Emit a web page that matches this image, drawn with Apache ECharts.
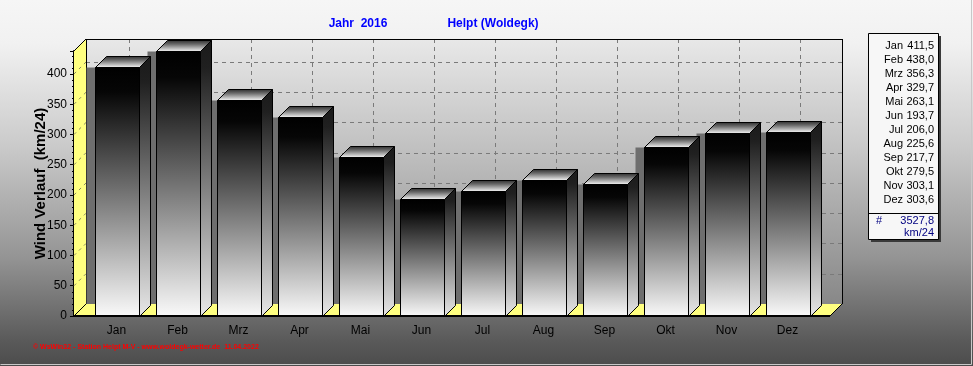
<!DOCTYPE html>
<html>
<head>
<meta charset="utf-8">
<script src="https://cdn.jsdelivr.net/npm/echarts@6/dist/echarts.min.js"></script>
<style>html,body{margin:0;padding:0;background:#fff}#c{width:973px;height:366px}</style>
</head>
<body>
<div id="c"></div>
<script>
// ---- data ----
const months = ['Jan','Feb','Mrz','Apr','Mai','Jun','Jul','Aug','Sep','Okt','Nov','Dez'];
const values = [411.5,438.0,356.3,329.7,263.1,193.7,206.0,225.6,217.7,279.5,303.1,303.6];
const yTicks = [0,50,100,150,200,250,300,350,400];
const yMax = 438;
const titleYear = 'Jahr  2016';
const titleStation = 'Helpt (Woldegk)';
const yName = 'Wind Verlauf  (km/24)';
const unit = 'km/24';
const footer = '\u00A9 WsWin32 - Station Helpt M-V - www.woldegk-wetter.de  11.04.2022';

// ---- style ----
const FONT = '"Liberation Sans", Arial, sans-serif';
const WALL_D = 12, BAR_D = 11, PAD = 12;
const YELLOW = '#ffff80';
const fmt = v => v.toFixed(1).replace('.', ',');
const total = values.reduce((a, b) => a + b, 0);

const chart = echarts.init(document.getElementById('c'), null, {renderer: 'canvas'});
const LG = echarts.graphic.LinearGradient;

function wallsItem(params, api) {
  const cs = params.coordSys;
  const x0 = cs.x - PAD, x1 = cs.x + cs.width + PAD;
  const yT = cs.y, yB = cs.y + cs.height, D = WALL_D;
  const ch = [];
  ch.push({type: 'rect', shape: {x: x0 + D, y: yT - D, width: x1 - x0, height: yB - yT},
    style: {fill: new LG(0, 0, 0, 1, [{offset: 0, color: '#e8e8e8'}, {offset: 0.5, color: '#b8b8b8'}, {offset: 1, color: '#888888'}])}});
  yTicks.forEach(v => {
    if (v === 0) return;
    const y = Math.round(api.coord([0, v])[1]) - D + 0.5;
    ch.push({type: 'line', shape: {x1: x0 + D, y1: y, x2: x1 + D, y2: y},
      style: {stroke: '#7a7a7a', lineWidth: 1, lineDash: [4, 4]}});
  });
  months.forEach((m, i) => {
    const x = Math.round(api.coord([i, 0])[0]) + D + 0.5;
    ch.push({type: 'line', shape: {x1: x, y1: yT - D, x2: x, y2: yB - D},
      style: {stroke: '#7a7a7a', lineWidth: 1, lineDash: [4, 4]}});
  });
  ch.push({type: 'polygon', shape: {points: [[x0, yB], [x0, yT], [x0 + D, yT - D], [x0 + D, yB - D]]},
    style: {fill: YELLOW}});
  yTicks.forEach(v => {
    if (v === 0) return;
    const y = api.coord([0, v])[1];
    ch.push({type: 'line', shape: {x1: x0, y1: y, x2: x0 + D, y2: y - D},
      style: {stroke: '#8a8a60', lineWidth: 1, lineDash: [3, 4]}});
  });
  ch.push({type: 'polygon', shape: {points: [[x0, yB], [x1, yB], [x1 + D, yB - D], [x0 + D, yB - D]]},
    style: {fill: YELLOW}});
  const L = (a, b, c, d, w) => ch.push({type: 'line', shape: {x1: a, y1: b, x2: c, y2: d}, style: {stroke: '#000', lineWidth: w || 1}});
  L(x0 + D + 0.5, yT - D, x0 + D + 0.5, yB - D);
  L(x0 + D, yT - D + 0.5, x1 + D, yT - D + 0.5);
  L(x1 + D + 0.5, yT - D, x1 + D + 0.5, yB - D);
  L(x0, yT, x0 + D, yT - D);
  L(x0, yB, x0 + D, yB - D);
  L(x1, yB, x1 + D, yB - D);
  return {type: 'group', children: ch};
}

function barGeom(api) {
  const i = api.value(0), v = api.value(1);
  const base = api.coord([i, 0]);
  const top = api.coord([i, v]);
  const bw = Math.round(api.size([1, 0])[0] * 0.72);
  const left = Math.round(base[0] - bw / 2) + 0.5;
  return {left, right: left + bw, top: Math.round(top[1]) + 0.5, base: Math.round(base[1]) + 0.5, bw};
}

function shadowItem(params, api) {
  const g = barGeom(api);
  const cs = params.coordSys;
  const yB = cs.y + cs.height;
  return {type: 'rect', shape: {x: g.left - 9, y: g.top, width: g.bw + 9, height: yB - WALL_D - g.top},
    style: {fill: '#6e6e6e'}};
}

function barItem(params, api) {
  const g = barGeom(api), d = BAR_D;
  return {type: 'group', children: [
    {type: 'polygon', shape: {points: [[g.right, g.top], [g.right + d, g.top - d], [g.right + d, g.base - d], [g.right, g.base]]},
      style: {fill: new LG(0, 0, 0, 1, [{offset: 0, color: '#1a1a1a'}, {offset: 0.1, color: '#202020'}, {offset: 1, color: '#e8e8e8'}]), stroke: '#000', lineWidth: 1}},
    {type: 'polygon', shape: {points: [[g.left, g.top], [g.left + d, g.top - d], [g.right + d, g.top - d], [g.right, g.top]]},
      style: {fill: new LG(0, 0, 0, 1, [{offset: 0, color: '#2a2a2a'}, {offset: 0.35, color: '#6a6a6a'}, {offset: 1, color: '#fcfcfc'}]), stroke: '#000', lineWidth: 1}},
    {type: 'rect', shape: {x: g.left, y: g.top, width: g.bw, height: g.base - g.top},
      style: {fill: new LG(0, 0, 0, 1, [{offset: 0, color: '#000000'}, {offset: 0.1, color: '#060606'}, {offset: 1, color: '#fafafa'}]), stroke: '#000', lineWidth: 1}}
  ]};
}

function frameItem(params, api) {
  const cs = params.coordSys;
  const x0 = cs.x - PAD, x1 = cs.x + cs.width + PAD, yB = cs.y + cs.height;
  return {type: 'line', shape: {x1: x0, y1: yB, x2: x1, y2: yB}, style: {stroke: '#000', lineWidth: 2}};
}

const boxX = 868, boxY = 33, boxW = 70, boxH = 206;
const rowY0 = 46, rowH = 14;
const legendEls = [
  {type: 'rect', shape: {x: boxX + 3, y: boxY + 3, width: boxW, height: boxH}, style: {fill: '#3a3a3a'}},
  {type: 'rect', shape: {x: boxX + 0.5, y: boxY + 0.5, width: boxW, height: boxH}, style: {fill: '#f7f7f7', stroke: '#000', lineWidth: 1}},
  {type: 'line', shape: {x1: boxX, y1: 213.5, x2: boxX + boxW, y2: 213.5}, style: {stroke: '#000', lineWidth: 1}}
];
months.forEach((m, i) => {
  legendEls.push({type: 'text', x: 903, y: rowY0 + rowH * i, style: {text: m, align: 'right', verticalAlign: 'middle', font: '11px ' + FONT, fill: '#000'}});
  legendEls.push({type: 'text', x: 934, y: rowY0 + rowH * i, style: {text: fmt(values[i]), align: 'right', verticalAlign: 'middle', font: '11px ' + FONT, fill: '#000'}});
});
legendEls.push({type: 'text', x: 876, y: 221, style: {text: '#', align: 'left', verticalAlign: 'middle', font: '11px ' + FONT, fill: '#000080'}});
legendEls.push({type: 'text', x: 934, y: 221, style: {text: fmt(total), align: 'right', verticalAlign: 'middle', font: '11px ' + FONT, fill: '#000080'}});
legendEls.push({type: 'text', x: 934, y: 233, style: {text: unit, align: 'right', verticalAlign: 'middle', font: '11px ' + FONT, fill: '#000080'}});

const option = {
  animation: false,
  grid: {left: 86, right: 155, top: 51, bottom: 50},
  xAxis: {
    type: 'category', data: months, boundaryGap: true,
    axisLine: {show: false}, axisTick: {show: false}, splitLine: {show: false},
    axisLabel: {margin: 9, fontSize: 12, color: '#000', fontFamily: FONT}
  },
  yAxis: {
    type: 'value', min: 0, max: yMax, interval: 50, offset: PAD,
    name: yName, nameLocation: 'middle', nameGap: 26, nameMoveOverlap: false,
    nameTextStyle: {fontSize: 15, fontWeight: 'bold', color: '#000', fontFamily: FONT},
    axisLine: {show: true, lineStyle: {color: '#000', width: 2}},
    axisTick: {show: true, length: 4, lineStyle: {color: '#000'}},
    minorTick: {show: true, splitNumber: 5, length: 2, lineStyle: {color: '#000'}},
    splitLine: {show: false},
    axisLabel: {margin: 7, fontSize: 12, color: '#000', fontFamily: FONT,
      formatter: v => (yTicks.indexOf(v) >= 0 ? String(v) : '')}
  },
  graphic: [
    {type: 'rect', z: -10, silent: true, shape: {x: 0, y: 0, width: 973, height: 366},
      style: {fill: new LG(0, 0, 0, 1, [{offset: 0, color: '#f6f6f6'}, {offset: 0.12, color: '#f1f1f1'}, {offset: 0.4, color: '#cacaca'}, {offset: 0.7, color: '#959595'}, {offset: 0.93, color: '#5a5a5a'}, {offset: 1, color: '#4c4c4c'}])}},
    {type: 'polyline', z: -9, silent: true, shape: {points: [[0.5, 364.5], [971.5, 364.5], [971.5, 0]]}, style: {stroke: '#c8c8c8', lineWidth: 1, fill: null}},
    {type: 'text', x: 358, y: 24, style: {text: titleYear, align: 'center', verticalAlign: 'middle', font: 'bold 12px ' + FONT, fill: '#0000ff'}},
    {type: 'text', x: 493, y: 24, style: {text: titleStation, align: 'center', verticalAlign: 'middle', font: 'bold 12px ' + FONT, fill: '#0000ff'}},
    {type: 'text', x: 33, y: 347, style: {text: footer, align: 'left', verticalAlign: 'middle', font: 'bold 7px ' + FONT, fill: '#ff0000'}},
    {type: 'group', children: legendEls}
  ],
  series: [
    {type: 'custom', name: 'walls', z: 1, clip: false, silent: true, data: [[0, 0]], renderItem: wallsItem},
    {type: 'custom', name: 'shadow', z: 2, clip: false, silent: true, data: values.map((v, i) => [i, v]), renderItem: shadowItem},
    {type: 'custom', name: 'Wind', z: 3, clip: false, data: values.map((v, i) => [i, v]), renderItem: barItem},
    {type: 'custom', name: 'frame', z: 4, clip: false, silent: true, data: [[0, 0]], renderItem: frameItem}
  ]
};
chart.setOption(option);
</script>
</body>
</html>
